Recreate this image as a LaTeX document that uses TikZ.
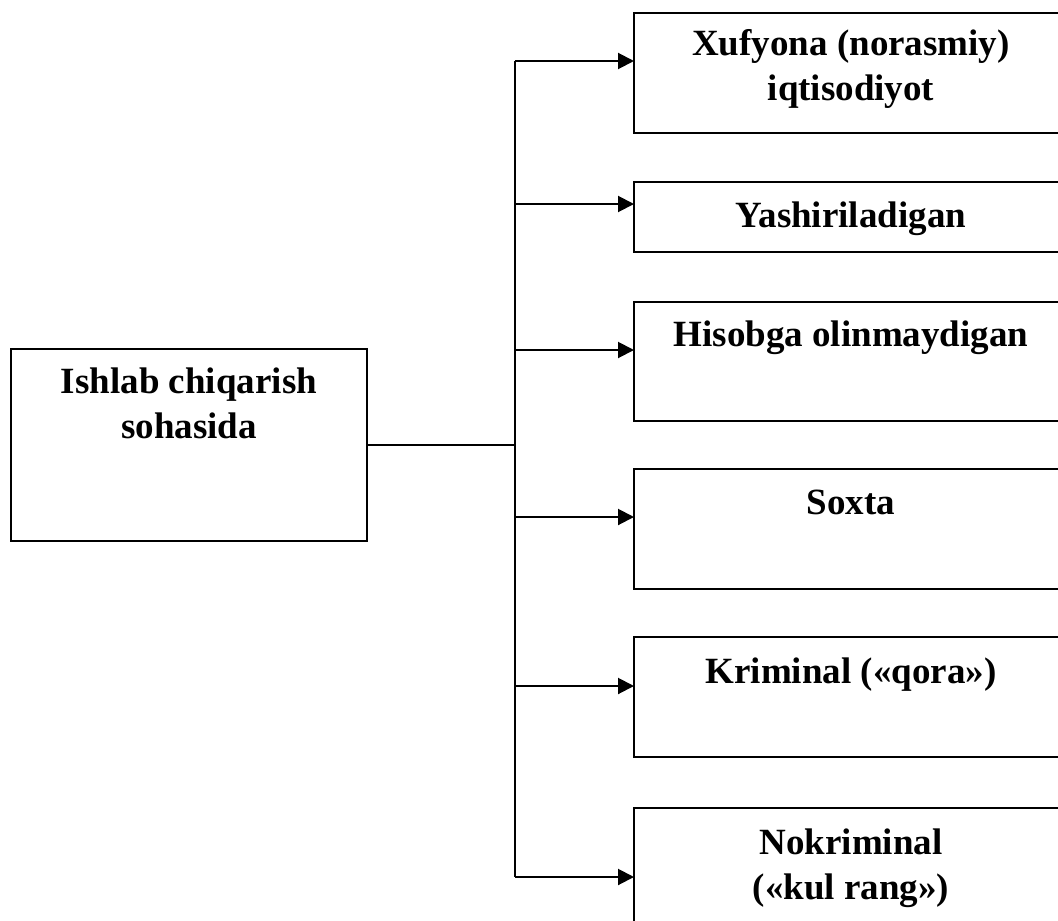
\documentclass[tikz,border=0pt]{standalone}
\usepackage{fontspec}
\setmainfont{Liberation Serif}
\usetikzlibrary{arrows.meta}
\begin{document}
\begin{tikzpicture}[x=1pt,y=-1pt,
  box/.style={draw,line width=2pt,rectangle,anchor=north west,inner sep=0pt,outer sep=0pt,minimum width=434pt},
  lbl/.style={anchor=base,align=center,inner sep=0pt,font=\fontsize{37}{45}\selectfont\bfseries},
  conn/.style={line width=2pt},
  arr/.style={line width=2pt,-{Triangle[length=16pt,width=16pt]}}]
\useasboundingbox (0,0) rectangle (1058,921);
\clip (0,0) rectangle (1058,921);
\node[box,minimum width=356pt,minimum height=192pt] (L) at (11,349) {};
\node[box,minimum height=120pt] (b1) at (634,13) {};
\node[box,minimum height=70pt] (b2) at (634,182) {};
\node[box,minimum height=119pt] (b3) at (634,302) {};
\node[box,minimum height=120pt] (b4) at (634,469) {};
\node[box,minimum height=120pt] (b5) at (634,637) {};
\node[box,minimum height=160pt] (b6) at (634,808) {};
\node[lbl] (tL) at ([yshift=-89pt]L.north) {Ishlab chiqarish\\sohasida};
\node[lbl] (t1) at ([yshift=-87pt]b1.north) {Xufyona (norasmiy)\\iqtisodiyot};
\node[lbl] (t2) at ([yshift=-45pt]b2.north) {Yashiriladigan};
\node[lbl] (t3) at ([yshift=-44pt]b3.north) {Hisobga olinmaydigan};
\node[lbl] (t4) at ([yshift=-45pt]b4.north) {Soxta};
\node[lbl] (t5) at ([yshift=-46pt]b5.north) {Kriminal («qora»)};
\node[lbl] (t6) at ([yshift=-91pt]b6.north) {Nokriminal\\(«kul rang»)};
\coordinate (top) at (515,61);
\coordinate (j2) at (515,204);
\coordinate (j3) at (515,350);
\coordinate (j4) at (515,517);
\coordinate (j5) at (515,686);
\coordinate (bot) at (515,877);
\draw[conn] (top) -- (bot);
\draw[conn] (L.east) -- (L.east -| top);
\draw[arr] (top) -- (top -| b1.west);
\draw[arr] (j2) -- (j2 -| b2.west);
\draw[arr] (j3) -- (j3 -| b3.west);
\draw[arr] (j4) -- (j4 -| b4.west);
\draw[arr] (j5) -- (j5 -| b5.west);
\draw[arr] (bot) -- (bot -| b6.west);
\end{tikzpicture}
\end{document}
